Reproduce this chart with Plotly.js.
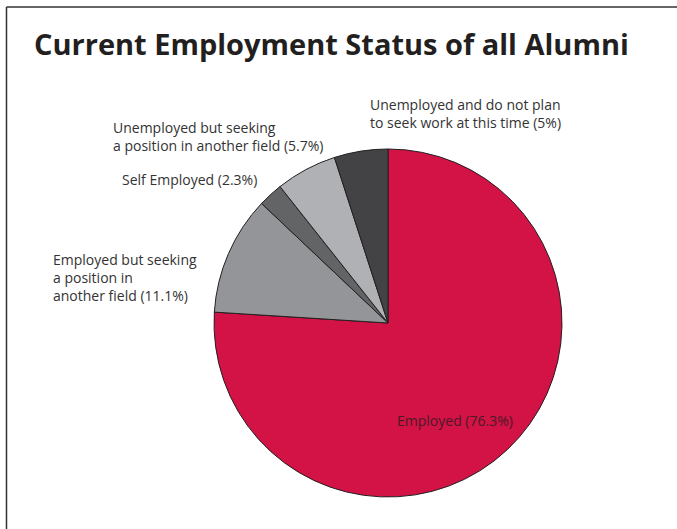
<!DOCTYPE html>
<html>
<head>
<meta charset="utf-8">
<script src="https://cdn.plot.ly/plotly-3.0.1.min.js"></script>
<style>html,body{margin:0;padding:0;background:#fff;}#chart{width:677px;height:529px;}</style>
</head>
<body>
<div id="chart"></div>
<script>
var categories = ["Employed", "Employed but seeking a position in another field", "Self Employed", "Unemployed but seeking a position in another field", "Unemployed and do not plan to seek work at this time"];
var labelLines = ["Employed", "Employed but seeking<br>a position in<br>another field", "Self Employed", "Unemployed but seeking<br>a position in another field", "Unemployed and do not plan<br>to seek work at this time"];
var values = [76.3, 11.1, 2.3, 5.7, 5];
var colors = ["#D31245", "#939598", "#636466", "#AFB1B4", "#434244"];

var W = 677, H = 529;
function px(x) { return x / W; }
function py(y) { return 1 - y / H; }

var cx = 388, cy = 323, r = 174;

// label placement (pixels, left edge / vertical centre)
var labelPos = [
  {x: 395, y: 420, color: "#4a1a28"},
  {x: 51, y: 277, color: "#333333"},
  {x: 120, y: 179, color: "#333333"},
  {x: 111, y: 136, color: "#333333"},
  {x: 368, y: 113, color: "#333333"}
];

var annotations = categories.map(function (c, i) {
  return {
    text: labelLines[i] + " (" + values[i] + "%)",
    xref: "paper", yref: "paper",
    x: px(labelPos[i].x), y: py(labelPos[i].y),
    xanchor: "left", yanchor: "middle", align: "left",
    showarrow: false,
    font: {family: "Open Sans, sans-serif", size: 14, color: labelPos[i].color}
  };
});

var trace = {
  type: "pie",
  labels: categories,
  values: values,
  sort: false,
  direction: "clockwise",
  rotation: 0,
  textinfo: "none",
  hoverinfo: "none",
  showlegend: false,
  marker: {colors: colors, line: {color: "#231f20", width: 1}},
  domain: {x: [px(cx - r), px(cx + r)], y: [py(cy + r), py(cy - r)]}
};

var layout = {
  width: W, height: H,
  margin: {l: 0, r: 0, t: 0, b: 0},
  paper_bgcolor: "#ffffff",
  title: {
    text: "<b>Current Employment Status of all Alumni</b>",
    x: px(34), xanchor: "left", xref: "paper",
    y: py(45), yanchor: "middle", yref: "container",
    font: {family: "Open Sans, sans-serif", size: 29, color: "#231f20"}
  },
  annotations: annotations,
  shapes: [
    {type: "line", xref: "paper", yref: "paper", x0: px(6.5), x1: px(6.5), y0: 0, y1: py(7), line: {color: "#333333", width: 1.5}},
    {type: "line", xref: "paper", yref: "paper", x0: px(6.5), x1: 1, y0: py(7), y1: py(7), line: {color: "#333333", width: 1.5}}
  ]
};

Plotly.newPlot("chart", [trace], layout, {displayModeBar: false, staticPlot: true});
</script>
</body>
</html>
